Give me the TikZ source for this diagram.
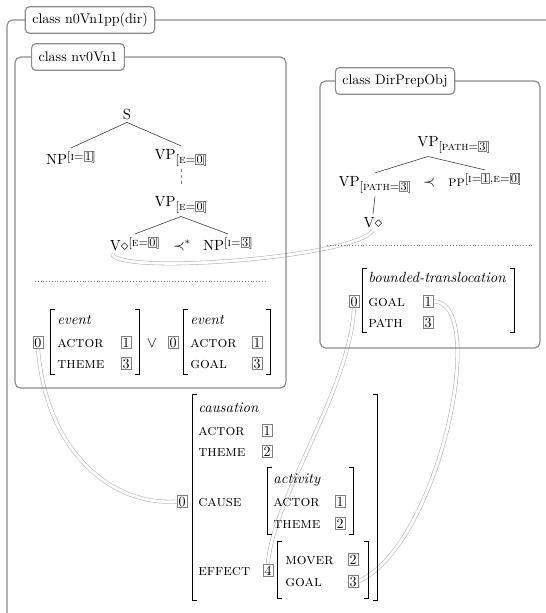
\documentclass[tikz,border=0pt]{standalone}
\usepackage{fontspec}
\usepackage{xcolor}
\usetikzlibrary{positioning,fit,backgrounds}

% boxed index inside tree labels
\newcommand{\tagbox}[1]{{\setlength{\fboxsep}{0.5pt}\setlength{\fboxrule}{0.4pt}\fcolorbox{gray}{white}{#1}}}
% feature indices on tree labels
\newcommand{\lowidx}[1]{\raisebox{-0.7ex}{\fontsize{8.5}{10}\selectfont #1}}
\newcommand{\highidx}[1]{\raisebox{0.6ex}{\fontsize{8.5}{10}\selectfont #1}}
% square brackets round an AVM box
\newcommand{\avmbrackets}[1]{%
  \draw[brk] ([xshift=3pt]#1.north west) -- (#1.north west) -- (#1.south west) -- ([xshift=3pt]#1.south west);
  \draw[brk] ([xshift=-3pt]#1.north east) -- (#1.north east) -- (#1.south east) -- ([xshift=-3pt]#1.south east);}

\begin{document}
\begin{tikzpicture}[
  x=0.714pt, y=-0.714pt,
  cls/.style={draw=gray!90,line width=0.85pt,rounded corners=3pt,fill=white,inner xsep=5pt,minimum height=19pt},
  frm/.style={draw=gray!90,line width=0.85pt,rounded corners=4pt},
  tnode/.style={anchor=base,inner sep=2pt,font=\fontsize{10.5}{12.5}\selectfont},
  branch/.style={draw=black!80,line width=0.4pt},
  dashbranch/.style={draw=gray,line width=0.35pt,dash pattern=on 2pt off 2pt},
  feat/.style={anchor=base west,inner sep=0pt,font=\fontsize{11}{13}\selectfont\scshape},
  typ/.style={anchor=base west,inner sep=0pt,font=\fontsize{10.5}{12.5}\selectfont\itshape},
  tagn/.style={anchor=base,draw=gray,line width=0.4pt,inner sep=1pt},
  brk/.style={line width=0.8pt},
  avm/.style={inner sep=0pt},
  tlink/.style={draw=gray!60,line width=0.4pt,double=white,double distance=2pt},
  dotsep/.style={draw=gray,line width=0.6pt,dash pattern=on 0.6pt off 1.4pt}
]
\useasboundingbox (0,0) rectangle (545,613);

% class frames
\draw[frm] (7,660) -- (7,20) -- (580,20);
\node[cls] (outerlab) at (90,20) {class n0Vn1pp(dir)};
\draw[frm] (15,57) rectangle (286,388);
\node[cls] (nvlab) at (78,57) {class nv0Vn1};
\draw[frm] (320,81) rectangle (540,348);
\node[cls] (dirlab) at (395,81) {class DirPrepObj};

% tree of nv0Vn1
\node[tnode] (s) at (127,119) {S};
\node[tnode] (np1) at (71,164) {NP\highidx{[\textsc{i}=\tagbox{1}]}};
\node[tnode] (vp1) at (181,159) {VP\lowidx{[\textsc{e}=\tagbox{0}]}};
\node[tnode] (vp2) at (181,206) {VP\lowidx{[\textsc{e}=\tagbox{0}]}};
\node[tnode] (vd1) at (135,250) {V$\diamond$\highidx{[\textsc{e}=\tagbox{0}]}};
\node[tnode] (prec1) at (182,250) {$\prec^{*}$};
\node[tnode] (np2) at (228,250) {NP\highidx{[\textsc{i}=\tagbox{3}]}};
\draw[branch] (s.south) -- (np1.north);
\draw[branch] (s.south) -- (vp1.north);
\draw[dashbranch] (vp1.south) -- ([yshift=5pt]vp2.north);
\draw[branch] (vp2.south) -- (vd1.north);
\draw[branch] (vp2.south) -- (np2.north);
\draw[dotsep] (35,281) -- (265,281);

% semantic frames of nv0Vn1
\node[tagn] (ev0a) at (38,347) {0};
\node[avm,fit={(51,310) (139,374)}] (avmA) {};
\avmbrackets{avmA}
\node[typ] (eva) at (57,324) {event};
\node[feat] (acta) at (57,347) {actor};
\node[tagn] (ev1a) at (126,347) {1};
\node[feat] (thma) at (57,368) {theme};
\node[tagn] (ev3a) at (126,368) {3};
\node[tnode] (orop) at (152,347) {$\vee$};
\node[tagn] (ev0b) at (173,347) {0};
\node[avm,fit={(184,310) (270,374)}] (avmB) {};
\avmbrackets{avmB}
\node[typ] (evb) at (190,324) {event};
\node[feat] (actb) at (190,347) {actor};
\node[tagn] (ev1b) at (257,347) {1};
\node[feat] (goab) at (190,368) {goal};
\node[tagn] (ev3b) at (257,368) {3};

% tree of DirPrepObj
\node[tnode] (vp3) at (428,146) {VP\rlap{\lowidx{[\textsc{path}=\tagbox{3}]}}};
\node[tnode] (vp4) at (375,186) {VP\lowidx{[\textsc{path}=\tagbox{3}]}};
\node[tnode] (prec2) at (429,186) {$\prec$};
\node[tnode] (pp) at (485,186) {\textsc{pp}\highidx{[\textsc{i}=\tagbox{1},\textsc{e}=\tagbox{0}]}};
\node[tnode] (vd2) at (373,227) {V$\diamond$};
\draw[branch] (vp3.south) -- (vp4.north);
\draw[branch] (vp3.south) -- (pp.north);
\draw[branch] (vp4.south) -- (vd2.north);
\draw[dotsep] (327,245) -- (533,245);

% semantic frame of DirPrepObj
\node[tagn] (bt0) at (354,306) {0};
\node[avm,fit={(363,269) (514,332)}] (avmD) {};
\avmbrackets{avmD}
\node[typ] (btt) at (368,282) {bounded-translocation};
\node[feat] (btg) at (368,306) {goal};
\node[tagn] (bt1) at (428,306) {1};
\node[feat] (btp) at (368,327) {path};
\node[tagn] (bt3) at (428,327) {3};

% unified frame
\node[tagn] (cs0) at (182,506) {0};
\node[avm,fit={(193,395) (377,600)}] (avmC) {};
\avmbrackets{avmC}
\node[typ] (cst) at (198,412) {causation};
\node[feat] (csa) at (198,435) {actor};
\node[tagn] (cs1) at (267,435) {1};
\node[feat] (csth) at (198,456) {theme};
\node[tagn] (cs2) at (267,456) {2};
\node[feat] (csc) at (198,506) {cause};
\node[avm,fit={(268,468) (353,534)}] (avmAct) {};
\avmbrackets{avmAct}
\node[typ] (act) at (273,483) {activity};
\node[feat] (acta2) at (273,506) {actor};
\node[tagn] (ac1) at (340,506) {1};
\node[feat] (acth) at (273,528) {theme};
\node[tagn] (ac2) at (340,528) {2};
\node[feat] (cse) at (198,575) {effect};
\node[tagn] (cs4) at (268,575) {4};
\node[avm,fit={(278,542) (368,598)}] (avmEff) {};
\avmbrackets{avmEff}
\node[feat] (efm) at (285,564) {mover};
\node[tagn] (ef2) at (353,564) {2};
\node[feat] (efg) at (285,586) {goal};
\node[tagn] (ef3) at (353,586) {3};

% identifications
\begin{scope}[on background layer]
\draw[tlink] ([xshift=4pt]vd1.south west) .. controls +(0,22) and (355,258) .. (vd2.south);
\draw[tlink] (ev0a.south) .. controls (46,450) and (110,506) .. (cs0.west);
\draw[tlink] (bt0.south) .. controls (350,390) and (272,500) .. (cs4.north);
\draw[tlink] (bt1.east) .. controls (490,300) and (440,545) .. (ef3.east);
\end{scope}
\end{tikzpicture}
\end{document}
